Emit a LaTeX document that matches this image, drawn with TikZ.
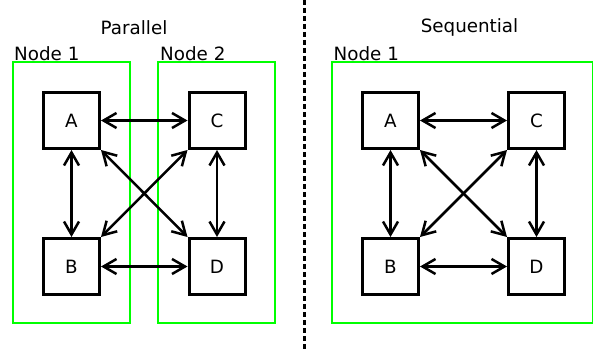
\documentclass[tikz,border=0pt]{standalone}
\usepackage{fontspec}
\setmainfont{DejaVu Sans}
\usetikzlibrary{arrows.meta}
\begin{document}
\begin{tikzpicture}[x=1pt,y=-1pt,
  every node/.style={font=\fontsize{18.3}{21}\selectfont},
  task/.style={draw=black,line width=3pt,minimum width=56pt,minimum height=56pt,inner sep=0pt},
  group/.style={draw=green,line width=2.8pt,inner sep=0pt,outer sep=0pt},
  link/.style={line width=2.5pt,{Straight Barb[length=13pt,width=15pt]}-{Straight Barb[length=13pt,width=15pt]}},
  grouplabel/.style={anchor=base west,inner sep=0pt},
  sep/.style={line width=3pt,dash pattern=on 5pt off 3pt}]
\useasboundingbox (0,0) rectangle (593,350);
\coordinate (septop) at (304,0);
\coordinate (sepbot) at (304,350);
\draw[sep] (septop) -- (sepbot);
% titles
\node (tpar) at (134,27.5) {Parallel};
\node (tseq) at (469.5,27.5) {Sequential};
% groups
\node[group,minimum width=117pt,minimum height=261pt] (g1) at (71.5,192.5) {};
\node[group,minimum width=117pt,minimum height=261pt] (g2) at (216.5,192.5) {};
\node[group,minimum width=261.5pt,minimum height=261pt] (g3) at (462.75,192.5) {};
\node[grouplabel] (l1) at ([xshift=1pt,yshift=1pt]g1.north west) {Node 1};
\node[grouplabel] (l2) at ([xshift=2pt,yshift=1pt]g2.north west) {Node 2};
\node[grouplabel] (l3) at ([xshift=1.5pt,yshift=1pt]g3.north west) {Node 1};
% parallel tasks
\node[task] (pA) at (71.5,120.5) {A};
\node[task] (pC) at (217,120.5) {C};
\node[task] (pB) at (71.5,266.5) {B};
\node[task] (pD) at (217,266.5) {D};
% sequential tasks
\node[task] (sA) at (390.5,120.5) {A};
\node[task] (sC) at (536.5,120.5) {C};
\node[task] (sB) at (390.5,266.5) {B};
\node[task] (sD) at (536.5,266.5) {D};
% links
\foreach \p in {p,s}{
  \draw[link] (\p A.east) -- (\p C.west);
  \draw[link] (\p B.east) -- (\p D.west);
  \draw[link] (\p A.south) -- (\p B.north);
  \draw[link] (\p C.south) -- (\p D.north);
  \draw[link] (\p A.south east) -- (\p D.north west);
  \draw[link] (\p C.south west) -- (\p B.north east);
}
\end{tikzpicture}
\end{document}
